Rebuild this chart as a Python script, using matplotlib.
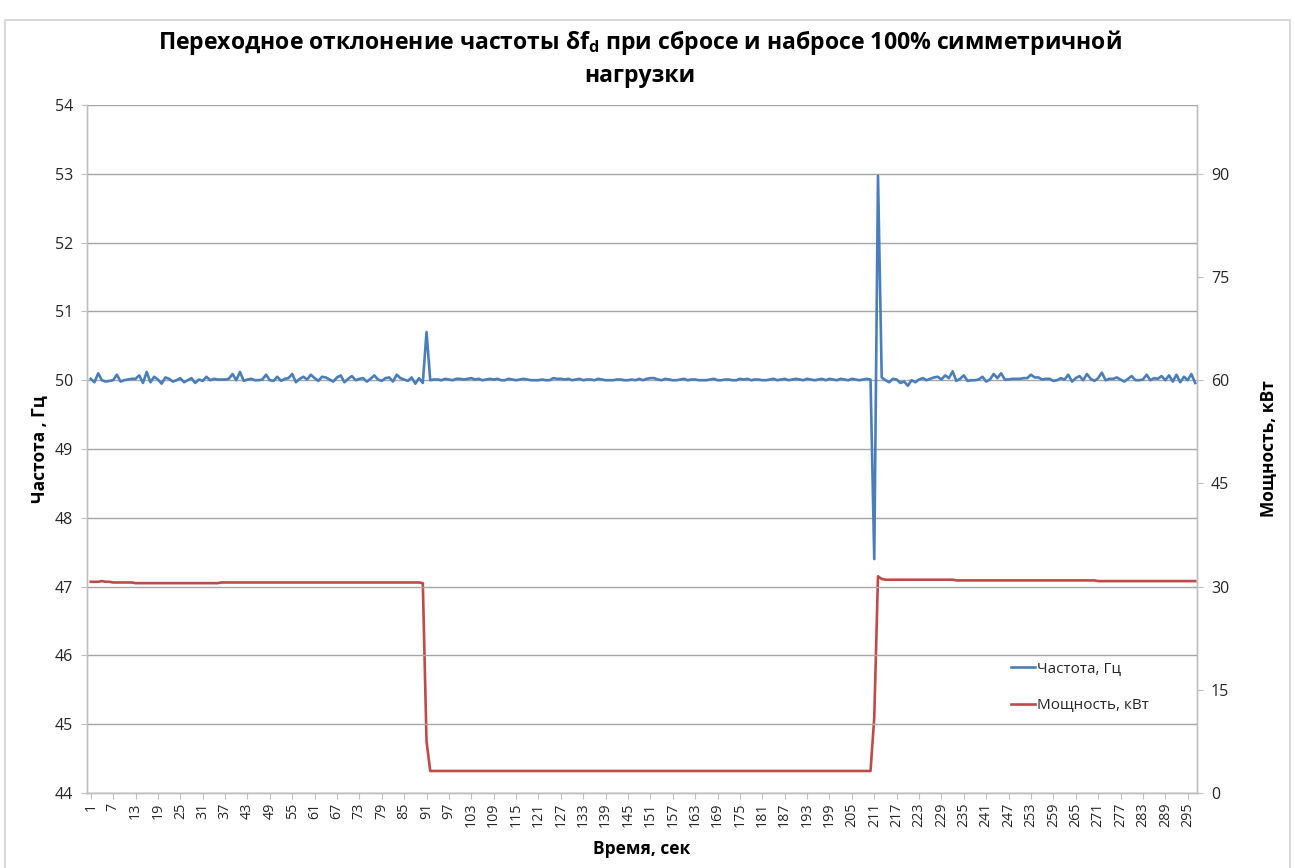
import matplotlib
matplotlib.use("Agg")
import matplotlib.pyplot as plt
from matplotlib.patches import Rectangle

plt.rcParams['font.family'] = ['Open Sans', 'DejaVu Sans']
plt.rcParams['mathtext.fontset'] = 'custom'
plt.rcParams['mathtext.rm'] = 'Open Sans'
plt.rcParams['mathtext.bf'] = 'Open Sans:bold'

# ---------------- data ----------------
title_text = ("Переходное отклонение частоты δf$\\mathbf{_d}$ при сбросе и набросе 100% симметричной\nнагрузки")
x_label = "Время, сек"
y_left_label = "Частота , Гц"
y_right_label = "Мощность, кВт"
freq_name = "Частота, Гц"
power_name = "Мощность, кВт"

# frequency, Hz  (seconds 1..90, noisy)
freq_a = [50.02, 49.97, 50.10, 50.00, 49.98, 49.99, 50.00, 50.08, 49.98, 50.00,
          50.01, 50.02, 50.02, 50.07, 49.96, 50.12, 49.97, 50.05, 50.01, 49.95,
          50.04, 50.02, 49.98, 50.00, 50.03, 49.97, 50.00, 50.03, 49.96, 50.01,
          49.99, 50.05, 50.00, 50.02, 50.01, 50.01, 50.01, 50.02, 50.09, 50.00,
          50.12, 49.99, 50.01, 50.02, 50.00, 50.00, 50.01, 50.08, 50.00, 49.99,
          50.05, 49.99, 50.02, 50.03, 50.09, 49.97, 50.02, 50.05, 50.01, 50.08,
          50.03, 49.99, 50.05, 50.04, 50.01, 49.98, 50.04, 50.07, 49.97, 50.02,
          50.06, 50.00, 50.02, 50.03, 49.98, 50.02, 50.07, 50.01, 49.99, 50.03,
          50.04, 49.98, 50.08, 50.03, 50.01, 49.99, 50.04, 49.95, 50.03, 49.96]
# load shedding (second 91)
freq_shed = [50.70]
# seconds 92..210, stable
freq_b = [50.00, 50.01, 50.01, 50.00, 50.02, 50.01, 50.00, 50.02, 50.02, 50.01,
          50.02, 50.03, 50.01, 50.02, 50.00, 50.01, 50.02, 50.01, 50.02, 50.00,
          50.00, 50.02, 50.01, 50.00, 50.01, 50.02, 50.01, 50.00, 50.00, 50.00,
          50.01, 50.00, 50.00, 50.03, 50.02, 50.02, 50.01, 50.02, 50.00, 50.01,
          50.02, 50.00, 50.01, 50.01, 50.00, 50.02, 50.01, 50.00, 50.00, 50.00,
          50.01, 50.01, 50.00, 50.00, 50.01, 50.00, 50.02, 50.00, 50.02, 50.03,
          50.03, 50.01, 50.00, 50.02, 50.01, 50.00, 50.00, 50.01, 50.02, 50.00,
          50.01, 50.01, 50.00, 50.00, 50.00, 50.01, 50.02, 50.00, 50.00, 50.01,
          50.01, 50.00, 50.00, 50.02, 50.01, 50.02, 50.00, 50.01, 50.01, 50.00,
          50.00, 50.01, 50.02, 50.00, 50.01, 50.02, 50.00, 50.01, 50.02, 50.01,
          50.00, 50.02, 50.01, 50.00, 50.01, 50.02, 50.00, 50.02, 50.01, 50.00,
          50.02, 50.01, 50.00, 50.02, 50.01, 50.00, 50.01, 50.02, 50.01]
# load application (seconds 211, 212)
freq_apply = [47.40, 52.97]
# seconds 213..297, noisy
freq_c = [50.04, 50.00, 49.97, 50.02, 50.01, 49.96, 49.98, 49.92, 50.00, 49.97,
          50.01, 50.03, 50.00, 50.02, 50.04, 50.05, 50.01, 50.07, 50.03, 50.13,
          49.99, 50.02, 50.07, 49.99, 50.00, 50.00, 50.01, 50.05, 49.98, 50.01,
          50.09, 50.03, 50.10, 50.01, 50.01, 50.02, 50.02, 50.02, 50.03, 50.03,
          50.08, 50.04, 50.04, 50.01, 50.02, 50.02, 49.99, 50.00, 50.03, 50.01,
          50.08, 49.98, 50.03, 50.06, 50.00, 50.09, 50.02, 49.99, 50.03, 50.11,
          50.00, 50.02, 50.02, 50.04, 50.01, 49.98, 50.02, 50.06, 50.00, 50.00,
          50.01, 50.08, 50.00, 50.03, 50.02, 50.06, 50.00, 50.07, 49.98, 50.08,
          49.97, 50.05, 50.00, 50.09, 49.96]

# power, kW
power_a = [30.7, 30.7, 30.7, 30.8, 30.7, 30.7, 30.6, 30.6, 30.6, 30.6,
           30.6, 30.6, 30.5, 30.5, 30.5, 30.5, 30.5, 30.5, 30.5, 30.5,
           30.5, 30.5, 30.5, 30.5, 30.5, 30.5, 30.5, 30.5, 30.5, 30.5,
           30.5, 30.5, 30.5, 30.5, 30.5, 30.6, 30.6, 30.6, 30.6, 30.6,
           30.6, 30.6, 30.6, 30.6, 30.6, 30.6, 30.6, 30.6, 30.6, 30.6,
           30.6, 30.6, 30.6, 30.6, 30.6, 30.6, 30.6, 30.6, 30.6, 30.6,
           30.6, 30.6, 30.6, 30.6, 30.6, 30.6, 30.6, 30.6, 30.6, 30.6,
           30.6, 30.6, 30.6, 30.6, 30.6, 30.6, 30.6, 30.6, 30.6, 30.6,
           30.6, 30.6, 30.6, 30.6, 30.6, 30.6, 30.6, 30.6, 30.6, 30.5]
power_shed = [7.5]
power_b = [3.2, 3.2, 3.2, 3.2, 3.2, 3.2, 3.2, 3.2, 3.2, 3.2,
           3.2, 3.2, 3.2, 3.2, 3.2, 3.2, 3.2, 3.2, 3.2, 3.2,
           3.2, 3.2, 3.2, 3.2, 3.2, 3.2, 3.2, 3.2, 3.2, 3.2,
           3.2, 3.2, 3.2, 3.2, 3.2, 3.2, 3.2, 3.2, 3.2, 3.2,
           3.2, 3.2, 3.2, 3.2, 3.2, 3.2, 3.2, 3.2, 3.2, 3.2,
           3.2, 3.2, 3.2, 3.2, 3.2, 3.2, 3.2, 3.2, 3.2, 3.2,
           3.2, 3.2, 3.2, 3.2, 3.2, 3.2, 3.2, 3.2, 3.2, 3.2,
           3.2, 3.2, 3.2, 3.2, 3.2, 3.2, 3.2, 3.2, 3.2, 3.2,
           3.2, 3.2, 3.2, 3.2, 3.2, 3.2, 3.2, 3.2, 3.2, 3.2,
           3.2, 3.2, 3.2, 3.2, 3.2, 3.2, 3.2, 3.2, 3.2, 3.2,
           3.2, 3.2, 3.2, 3.2, 3.2, 3.2, 3.2, 3.2, 3.2, 3.2,
           3.2, 3.2, 3.2, 3.2, 3.2, 3.2, 3.2, 3.2, 3.2]
power_apply = [11.0, 31.5]
power_c = [31.1, 31.0, 31.0, 31.0, 31.0, 31.0, 31.0, 31.0, 31.0, 31.0,
           31.0, 31.0, 31.0, 31.0, 31.0, 31.0, 31.0, 31.0, 31.0, 31.0,
           30.9, 30.9, 30.9, 30.9, 30.9, 30.9, 30.9, 30.9, 30.9, 30.9,
           30.9, 30.9, 30.9, 30.9, 30.9, 30.9, 30.9, 30.9, 30.9, 30.9,
           30.9, 30.9, 30.9, 30.9, 30.9, 30.9, 30.9, 30.9, 30.9, 30.9,
           30.9, 30.9, 30.9, 30.9, 30.9, 30.9, 30.9, 30.9, 30.8, 30.8,
           30.8, 30.8, 30.8, 30.8, 30.8, 30.8, 30.8, 30.8, 30.8, 30.8,
           30.8, 30.8, 30.8, 30.8, 30.8, 30.8, 30.8, 30.8, 30.8, 30.8,
           30.8, 30.8, 30.8, 30.8, 30.8]

frequency = freq_a + freq_shed + freq_b + freq_apply + freq_c
power = power_a + power_shed + power_b + power_apply + power_c
seconds = list(range(1, len(frequency) + 1))
tick_seconds = seconds[::6]

left_ticks = [44, 45, 46, 47, 48, 49, 50, 51, 52, 53, 54]
right_ticks = [0, 15, 30, 45, 60, 75, 90]

# ---------------- figure ----------------
W, H = 1295, 868
fig = plt.figure(figsize=(W / 100, H / 100), dpi=100)
fig.patch.set_facecolor('white')
fig.add_artist(Rectangle((5 / W, -0.01), (W - 10) / W, 1 - 20 / H + 0.01,
                         transform=fig.transFigure, fill=False,
                         edgecolor='#d9d9d9', linewidth=1.5))

ax = fig.add_axes([87 / W, 1 - 793 / H, (1197 - 87) / W, (793 - 105) / H])
ax2 = ax.twinx()

blue = '#4a7ebb'
red = '#be4b48'
grid_c = '#a6a6a6'
text_c = '#262626'

l2, = ax2.plot(seconds, power, color=red, lw=1.9, label=power_name, zorder=3)
l1, = ax.plot(seconds, frequency, color=blue, lw=1.9, label=freq_name, zorder=3)
ax.set_zorder(ax2.get_zorder() + 1)
ax.patch.set_visible(False)

ax.set_xlim(0.0, len(seconds) + 0.5)
ax.set_ylim(44, 54)
ax2.set_ylim(0, 100)
ax.set_yticks(left_ticks)
ax2.set_yticks(right_ticks)
ax.set_xticks(tick_seconds)
ax.set_xticklabels([str(s) for s in tick_seconds], rotation=90)

ax.yaxis.grid(True, color=grid_c, lw=1.0)
ax.set_axisbelow(True)

for a in (ax, ax2):
    a.spines['top'].set_visible(False)
    for side in ('left', 'right', 'bottom'):
        a.spines[side].set_color('#bfbfbf')
        a.spines[side].set_linewidth(1.0)

ax.tick_params(axis='y', length=4, color='#bfbfbf', labelsize=11.5,
               labelcolor=text_c, pad=6)
ax.tick_params(axis='x', length=4, color='#bfbfbf', labelsize=10.3,
               labelcolor=text_c, pad=3)
ax2.tick_params(axis='y', length=4, color='#bfbfbf', labelsize=11.5,
                labelcolor=text_c, pad=6)

ax.set_xlabel(x_label, fontsize=12.5, fontweight='bold', color='black', labelpad=9)
ax.set_ylabel(y_left_label, fontsize=12.5, fontweight='bold', color='black', labelpad=4)
ax2.set_ylabel(y_right_label, fontsize=12.5, fontweight='bold', color='black', labelpad=22)

fig.text(640 / W, 1 - 58 / H, title_text, ha='center', va='center',
         fontsize=16.6, fontweight='bold', color='black', linespacing=1.4)

leg = ax.legend(handles=[l1, l2], loc='center left', bbox_to_anchor=(0.82, 0.154),
                frameon=False, fontsize=11, handlelength=1.6, handletextpad=0.1,
                labelspacing=1.45)
for t in leg.get_texts():
    t.set_color(text_c)

fig.savefig('out.png', dpi=100)
